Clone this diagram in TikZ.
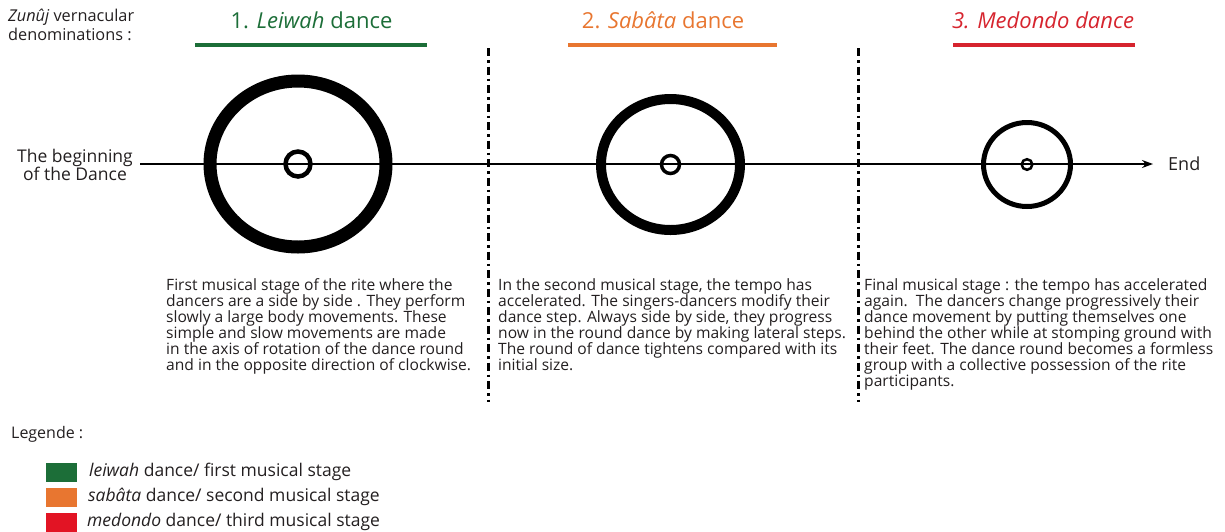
\documentclass[tikz,border=0pt]{standalone}
\usepackage{fontspec}
\setmainfont{Open Sans}
\usetikzlibrary{arrows.meta}
\definecolor{dgreen}{RGB}{28,110,56}
\definecolor{dorange}{RGB}{232,118,48}
\definecolor{dred}{RGB}{214,36,46}
\definecolor{lred}{RGB}{226,20,36}
\definecolor{txt}{RGB}{35,31,32}
\tikzset{
  body/.style={anchor=north west, inner sep=0pt, align=left, text=txt, font=\fontsize{15.6}{16.1}\selectfont},
  head/.style={inner sep=0pt, font=\fontsize{22}{24}\selectfont},
  hbar/.style={line width=4pt},
  ring/.style={draw=black},
  sep/.style={line width=3pt, dash pattern=on 8pt off 4pt on 2.5pt off 4pt},
  swatch/.style={minimum width=31pt, minimum height=19pt, inner sep=0pt},
  lab/.style={anchor=west, inner sep=0pt, text=txt, font=\fontsize{17.5}{19}\selectfont},
}
\begin{document}
\begin{tikzpicture}[x=1pt,y=-1pt]
\useasboundingbox (0,0) rectangle (1225,531);
% header labels
\node[anchor=north west, inner sep=0pt, align=left, text=txt, font=\fontsize{16.3}{18.5}\selectfont] (zun) at (8,9) {\textit{Zunûj} vernacular\\denominations~:};
\node[head, text=dgreen] (h1) at (311.5,20) {1. \textit{Leiwah} dance};
\node[head, text=dorange] (h2) at (663,20) {2. \textit{Sabâta} dance};
\node[head, text=dred] (h3) at (1043,20) {\textit{3. Medondo dance}};
\draw[hbar, dgreen] (195,45) coordinate (b1l) -- (427,45) coordinate (b1r);
\draw[hbar, dorange] (568,45) coordinate (b2l) -- (777,45) coordinate (b2r);
\draw[hbar, dred] (953,45) coordinate (b3l) -- (1135,45) coordinate (b3r);
% separators
\draw[sep] (488,48) coordinate (s1t) -- (488,402) coordinate (s1b);
\draw[sep] (858,48) coordinate (s2t) -- (858,402) coordinate (s2b);
% axis
\node[align=center, inner sep=0pt, text=txt, font=\fontsize{17.5}{17.5}\selectfont] (begin) at (75,165) {The beginning\\of the Dance};
\node[anchor=west, inner sep=0pt, text=txt, font=\fontsize{18}{18}\selectfont] (end) at (1168,164) {End};
\draw[line width=1.3pt, -{Stealth[length=11pt,width=8pt]}] (140,164) coordinate (axs) -- (1153,164) coordinate (axe);
% circles
\draw[ring, line width=13pt] (298,164) ellipse [x radius=88pt, y radius=83pt];
\draw[ring, line width=4.5pt] (298,164) circle [radius=12.5pt];
\draw[ring, line width=10pt] (670.5,164.5) ellipse [x radius=69.5pt, y radius=65.5pt];
\draw[ring, line width=3.5pt] (670.5,164.5) circle [radius=9pt];
\draw[ring, line width=5pt] (1027,164.5) ellipse [x radius=43.5pt, y radius=42pt];
\draw[ring, line width=2.5pt] (1027,164.5) circle [radius=5.3pt];
% descriptions
\node[body] (t1) at (166,278) {First musical stage of the rite where the\\dancers are a side by side . They perform\\slowly a large body movements. These\\simple and slow movements are made\\in the axis of rotation of the dance round\\and in the opposite direction of clockwise.};
\node[body] (t2) at (498,278) {In the second musical stage, the tempo has\\accelerated. The singers-dancers modify their\\dance step. Always side by side, they progress\\now in the round dance by making lateral steps.\\The round of dance tightens compared with its\\initial size.};
\node[body] (t3) at (864,278) {Final musical stage : the tempo has accelerated\\again.\ \ The dancers change progressively their\\dance movement by putting themselves one\\behind the other while at stomping ground with\\their feet. The dance round becomes a formless\\group with a collective possession of the rite\\participants.};
% legend
\node[anchor=west, inner sep=0pt, text=txt, font=\fontsize{16}{19}\selectfont] (leg) at (11,434) {Legende :};
\node[swatch, fill=dgreen] (sw1) at (61,472) {};
\node[swatch, fill=dorange] (sw2) at (61,497) {};
\node[swatch, fill=lred] (sw3) at (61,522) {};
\node[lab] (l1) at (89,472) {\textit{leiwah} dance/ first musical stage};
\node[lab] (l2) at (88,497) {\textit{sabâta} dance/ second musical stage};
\node[lab] (l3) at (87,522) {\textit{medondo} dance/ third musical stage};
\end{tikzpicture}
\end{document}
